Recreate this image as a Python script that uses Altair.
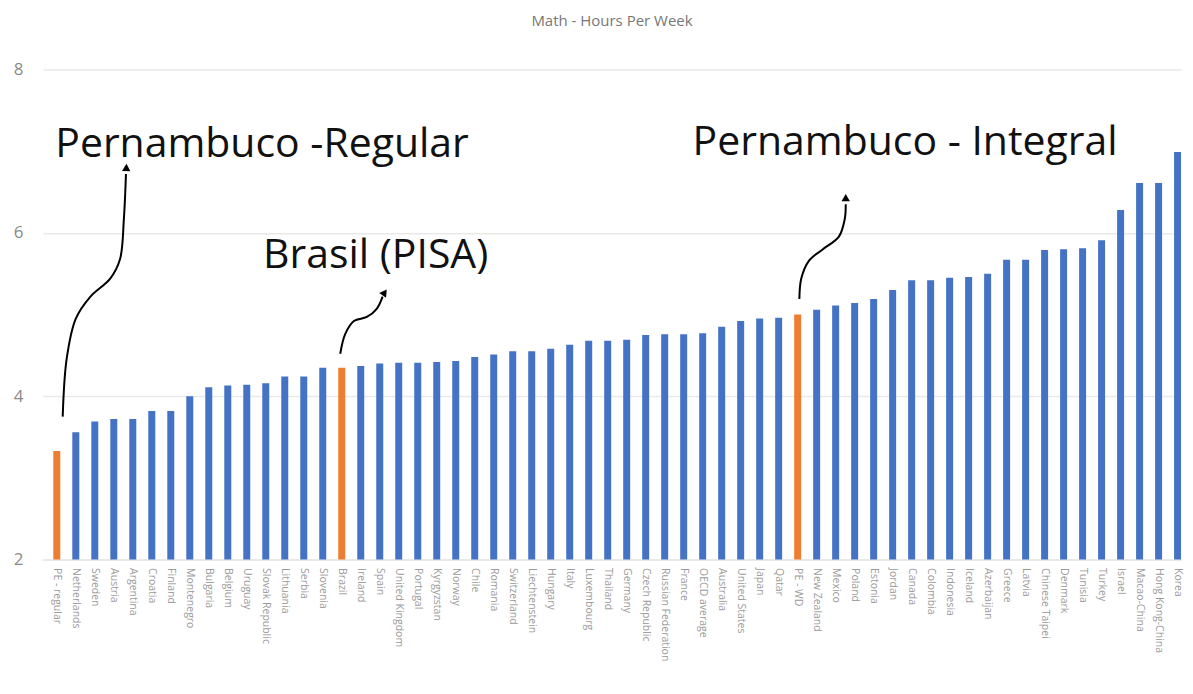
import altair as alt
import pandas as pd

countries = ["PE - regular", "Netherlands", "Sweden", "Austria", "Argentina", "Croatia", "Finland",
             "Montenegro", "Bulgaria", "Belgium", "Uruguay", "Slovak Republic", "Lithuania", "Serbia",
             "Slovenia", "Brazil", "Ireland", "Spain", "United Kingdom", "Portugal", "Kyrgyzstan",
             "Norway", "Chile", "Romania", "Switzerland", "Liechtenstein", "Hungary", "Italy",
             "Luxembourg", "Thailand", "Germany", "Czech Republic", "Russian Federation", "France",
             "OECD average", "Australia", "United States", "Japan", "Qatar", "PE - WD", "New Zealand",
             "Mexico", "Poland", "Estonia", "Jordan", "Canada", "Colombia", "Indonesia", "Iceland",
             "Azerbaijan", "Greece", "Latvia", "Chinese Taipei", "Denmark", "Tunisia", "Turkey",
             "Israel", "Macao-China", "Hong Kong-China", "Korea"]
hours = [3.33, 3.56, 3.69, 3.72, 3.72, 3.82, 3.82, 4.00, 4.11, 4.13, 4.14, 4.16, 4.24, 4.24,
         4.35, 4.35, 4.37, 4.40, 4.41, 4.41, 4.42, 4.43, 4.48, 4.51, 4.55, 4.55, 4.58, 4.63,
         4.68, 4.68, 4.69, 4.75, 4.76, 4.76, 4.77, 4.85, 4.92, 4.95, 4.96, 5.00, 5.06,
         5.11, 5.14, 5.19, 5.30, 5.42, 5.42, 5.45, 5.46, 5.50, 5.67, 5.67, 5.79, 5.80, 5.81, 5.91,
         6.28, 6.61, 6.61, 6.99]
highlighted = ["PE - regular", "Brazil", "PE - WD"]

# annotation texts (x in category-index units, y in hours)
note_text = ["Pernambuco -Regular", "Brasil (PISA)", "Pernambuco - Integral"]
note_x = [-0.08, 10.86, 33.47]
note_y = [7.08, 5.72, 7.10]

# curved arrows (category-index units / hours)
arrow_id = [1] * 8 + [2] * 6 + [3] * 7
arrow_x = [0.31, 0.52, 1.00, 1.77, 2.81, 3.33, 3.53, 3.64,
           14.92, 15.18, 15.64, 16.32, 16.84, 17.15,
           39.09, 39.19, 39.60, 40.33, 41.16, 41.48, 41.53]
arrow_y = [3.75, 4.46, 4.95, 5.22, 5.44, 5.68, 6.17, 6.72,
           4.52, 4.76, 4.92, 4.97, 5.07, 5.22,
           5.19, 5.44, 5.66, 5.80, 5.95, 6.17, 6.35]
head_x = [3.66, 17.26, 41.53]
head_y = [6.80, 5.27, 6.43]
head_angle = [2, 35, 0]

BLUE = "#4472C4"
ORANGE = "#ED7D31"

W = 1140
H = 491
n = len(countries)
p_in = 0.64
outer2 = 0.55
x_lo = -(outer2 + (1 - p_in) / 2)
x_hi = x_lo + (n - p_in + outer2)

bars_df = pd.DataFrame({
    "country": countries,
    "hours": hours,
    "hl": ["y" if c in highlighted else "n" for c in countries],
})
notes_df = pd.DataFrame({"text": note_text, "x": note_x, "y": note_y})
arrows_df = pd.DataFrame({"id": arrow_id, "x": arrow_x, "y": arrow_y,
                          "seq": list(range(len(arrow_x)))})
heads_df = pd.DataFrame({"x": head_x, "y": head_y, "angle": head_angle})

yscale = alt.Scale(domain=[2, 8], zero=False, nice=False)
xq = alt.Scale(domain=[x_lo, x_hi], nice=False, zero=False)

bars = alt.Chart(bars_df).mark_bar(size=7, clip=True).encode(
    x=alt.X("country:N", sort=None, title=None,
            scale=alt.Scale(paddingInner=p_in, paddingOuter=outer2 / 2, align=1),
            axis=alt.Axis(labelAngle=90, labelAlign="left", labelBaseline="middle",
                          labelColor="#9a9a9a", labelFontSize=10.5, labelFont="Open Sans",
                          labelPadding=8, labelLimit=108, ticks=False,
                          domainColor="#e4e4e4")),
    y=alt.Y("hours:Q", scale=yscale, title=None,
            axis=alt.Axis(values=[2, 4, 6, 8], format="d", labelFontSize=17, labelColor="#8a8a8a",
                          labelFont="Open Sans", labelPadding=20, ticks=False, domain=False,
                          gridColor="#e9e9e9", gridWidth=1.5)),
    color=alt.Color("hl:N", scale=alt.Scale(domain=["n", "y"], range=[BLUE, ORANGE]), legend=None),
)

lines = alt.Chart(arrows_df).mark_line(color="black", strokeWidth=2, interpolate="catmull-rom").encode(
    x=alt.X("x:Q", scale=xq, axis=None),
    y=alt.Y("y:Q", scale=yscale),
    detail="id:N",
    order="seq:Q",
)

heads = alt.Chart(heads_df).mark_point(shape="triangle-up", filled=True, color="black",
                                       size=70, opacity=1).encode(
    x=alt.X("x:Q", scale=xq, axis=None),
    y=alt.Y("y:Q", scale=yscale),
    angle=alt.Angle("angle:Q", scale=None),
)

notes = alt.Chart(notes_df).mark_text(align="left", baseline="middle", fontSize=41,
                                      font="Open Sans", color="#111111").encode(
    x=alt.X("x:Q", scale=xq, axis=None),
    y=alt.Y("y:Q", scale=yscale),
    text="text:N",
)

chart = alt.layer(bars, lines, heads, notes).resolve_scale(x="independent").properties(
    width=W, height=H,
    title=alt.TitleParams("Math - Hours Per Week", fontSize=15, color="#777777",
                          font="Open Sans", fontWeight="normal", offset=32),
    padding={"left": 5, "right": 2, "top": 5, "bottom": 0},
).configure_view(stroke=None)

chart.save("out.html", embed_options={"renderer": "svg", "actions": False})
